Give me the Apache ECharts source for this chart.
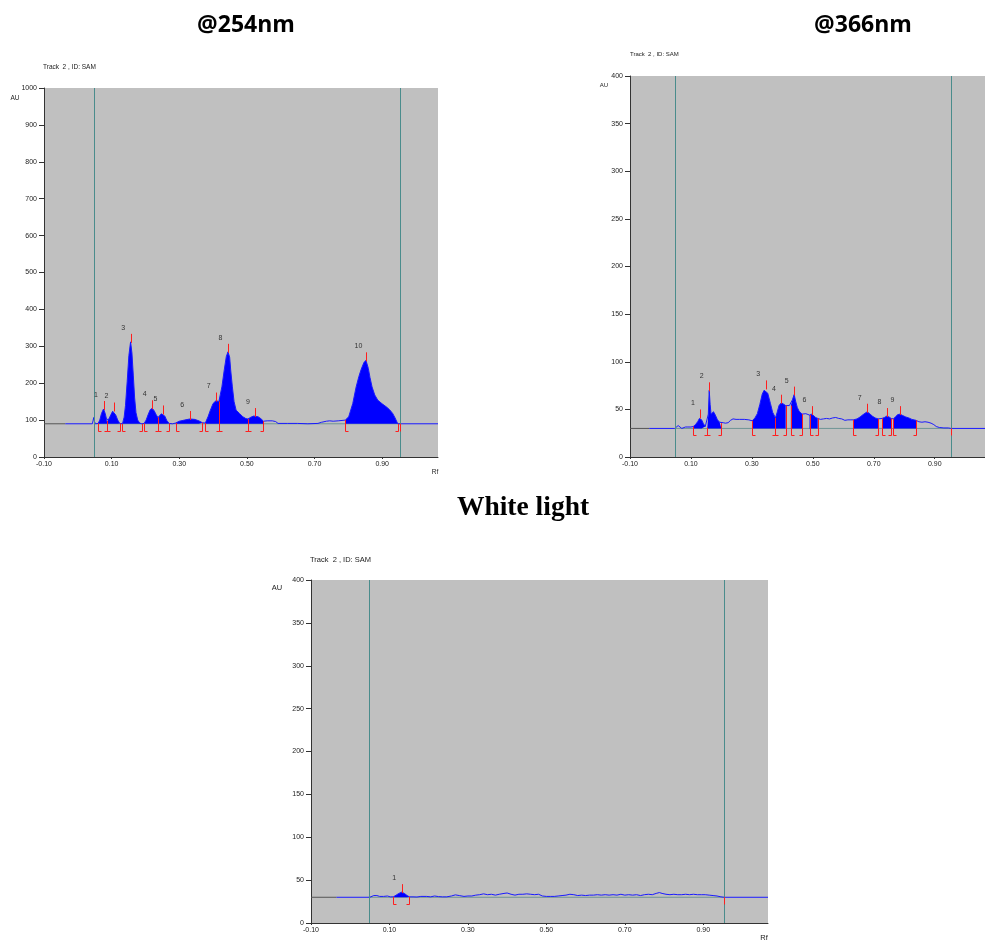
<!DOCTYPE html>
<html>
<head>
<meta charset="utf-8">
<title>HPTLC densitograms</title>
<script src="https://cdn.jsdelivr.net/npm/echarts@6/dist/echarts.min.js"></script>
<style>
html, body { margin: 0; padding: 0; background: #fff; }
#chartmain { width: 985px; height: 941px; }
</style>
</head>
<body>
<div id="chartmain"></div>
<script>
// Rf tick labels shared by the three scans
var xTicks = [-0.1, 0.1, 0.3, 0.5, 0.7, 0.9];
// application position / solvent front (teal lines)
var trackLimits = [0.047, 0.953];

// ---- @254nm ----
var uv254Base = 90;
var uv254Curve = [
    [-0.037, 90], [0.043, 90], [0.045, 98], [0.047, 107], [0.049, 97], [0.052, 90], [0.060, 91],
    [0.065, 100], [0.070, 118], [0.076, 130], [0.081, 118], [0.085, 102], [0.087, 97], [0.092, 102],
    [0.098, 115], [0.103, 124], [0.107, 126], [0.112, 114], [0.118, 100], [0.124, 91], [0.132, 90],
    [0.137, 108], [0.141, 140], [0.146, 205], [0.151, 275], [0.156, 312], [0.160, 282], [0.164, 222],
    [0.168, 160], [0.172, 120], [0.177, 100], [0.183, 92], [0.189, 90], [0.196, 91], [0.202, 100],
    [0.208, 115], [0.214, 128], [0.220, 132], [0.226, 125], [0.232, 114], [0.237, 107], [0.242, 112],
    [0.247, 117], [0.252, 118], [0.257, 111], [0.263, 99], [0.270, 91], [0.280, 90], [0.289, 92],
    [0.300, 97], [0.315, 100], [0.331, 103], [0.345, 102], [0.358, 98], [0.368, 93], [0.377, 92],
    [0.385, 109], [0.392, 127], [0.400, 145], [0.409, 153], [0.417, 150], [0.426, 190], [0.433, 236],
    [0.439, 272], [0.444, 285], [0.449, 270], [0.452, 236], [0.457, 190], [0.462, 150], [0.468, 127],
    [0.478, 118], [0.488, 109], [0.497, 104], [0.503, 103], [0.512, 108], [0.520, 111], [0.525, 111],
    [0.533, 109], [0.541, 104], [0.549, 97], [0.560, 98], [0.575, 98], [0.585, 96], [0.592, 91],
    [0.620, 91], [0.650, 91], [0.680, 90], [0.710, 91], [0.720, 94], [0.735, 97], [0.745, 98],
    [0.755, 97], [0.770, 98], [0.791, 100], [0.801, 109], [0.813, 145], [0.823, 190], [0.831, 218],
    [0.838, 238], [0.846, 256], [0.852, 262], [0.859, 240], [0.864, 215], [0.870, 190], [0.878, 168],
    [0.887, 154], [0.900, 144], [0.912, 136], [0.922, 128], [0.931, 118], [0.938, 106], [0.946, 90],
    [1.065, 90]
];
// [peak no, start Rf, max Rf, max AU, end Rf]
var uv254Peaks = [
    [1, 0.060, 0.076, 130, 0.087],
    [2, 0.087, 0.107, 126, 0.124],
    [3, 0.132, 0.156, 312, 0.189],
    [4, 0.196, 0.220, 132, 0.237],
    [5, 0.237, 0.252, 118, 0.270],
    [6, 0.289, 0.331, 103, 0.368],
    [7, 0.377, 0.409, 153, 0.417],
    [8, 0.417, 0.444, 285, 0.503],
    [9, 0.503, 0.525, 111, 0.549],
    [10, 0.791, 0.852, 262, 0.946]
];

// ---- @366nm ----
var uv366Base = 30;
var uv366Curve = [
    [-0.037, 30], [0.047, 30], [0.052, 32], [0.058, 33], [0.064, 31.5], [0.070, 30], [0.076, 30.5],
    [0.082, 31.5], [0.090, 31.5], [0.100, 31.5], [0.1075, 32], [0.115, 34], [0.122, 37], [0.128, 40.5],
    [0.131, 41.5], [0.135, 39], [0.141, 35], [0.147, 32], [0.1527, 30.5], [0.1538, 30.5], [0.157, 45],
    [0.160, 70], [0.163, 55], [0.166, 45], [0.170, 46], [0.174, 47.5], [0.180, 44], [0.187, 39],
    [0.194, 36.5], [0.200, 35.5], [0.206, 36], [0.213, 35.5], [0.222, 36], [0.230, 38.5], [0.238, 40],
    [0.248, 39.5], [0.260, 39.5], [0.275, 39.5], [0.290, 39], [0.301, 38], [0.310, 41], [0.318, 45.5],
    [0.326, 55], [0.334, 66], [0.340, 70], [0.345, 72], [0.352, 67], [0.361, 56], [0.368, 47],
    [0.3774, 41], [0.383, 47], [0.389, 54], [0.3968, 57], [0.402, 56.5], [0.4108, 54], [0.417, 55.5],
    [0.423, 54], [0.428, 54], [0.433, 60], [0.4387, 65.5], [0.444, 58], [0.449, 52], [0.455, 48],
    [0.4645, 45], [0.470, 45.5], [0.477, 45.5], [0.483, 44.5], [0.4892, 44], [0.4968, 45], [0.503, 43.5],
    [0.509, 41.5], [0.516, 40.5], [0.525, 39.5], [0.535, 40], [0.545, 40.5], [0.555, 40], [0.565, 41],
    [0.575, 41.5], [0.585, 40.5], [0.595, 40], [0.605, 38.5], [0.615, 39], [0.625, 39], [0.6333, 39],
    [0.645, 40], [0.655, 42], [0.665, 44.5], [0.6785, 47.5], [0.688, 45], [0.697, 42.5], [0.705, 41],
    [0.714, 40], [0.720, 40.5], [0.727, 40.5], [0.735, 41.5], [0.743, 43], [0.750, 42], [0.757, 40.5],
    [0.7645, 40], [0.772, 42.5], [0.779, 44.5], [0.786, 45], [0.795, 43.5], [0.805, 42], [0.815, 41],
    [0.825, 39.5], [0.8387, 38.5], [0.848, 37], [0.858, 36.5], [0.868, 37], [0.878, 36.5], [0.888, 35.5],
    [0.897, 34], [0.905, 32], [0.915, 31], [0.930, 30.5], [0.945, 30.5], [0.953, 30], [1.065, 30]
];
var uv366Peaks = [
    [1, 0.1075, 0.131, 41.5, 0.1527],
    [2, 0.1538, 0.160, 70, 0.200],
    [3, 0.301, 0.345, 72, 0.3774],
    [4, 0.3774, 0.3968, 57, 0.4108],
    [5, 0.428, 0.4387, 65.5, 0.4645],
    [6, 0.4892, 0.4968, 45, 0.516],
    [7, 0.6333, 0.6785, 47.5, 0.714],
    [8, 0.727, 0.743, 43, 0.757],
    [9, 0.7645, 0.786, 45, 0.8387]
];

// ---- White light ----
var whiteBase = 30;
var whiteCurve = [
    [-0.035, 30], [0.050, 30], [0.053, 31.5], [0.060, 32], [0.068, 32], [0.075, 31], [0.085, 31],
    [0.095, 31.5], [0.102, 30.5], [0.110, 30.5], [0.117, 32.5], [0.124, 34.5], [0.1313, 36],
    [0.138, 34.5], [0.145, 32], [0.1508, 30.5], [0.160, 30.5], [0.170, 30.3], [0.180, 31], [0.195, 31],
    [0.205, 30.5], [0.215, 31.5], [0.225, 30.8], [0.235, 30.5], [0.246, 30.5], [0.258, 31.5], [0.268, 32.8],
    [0.278, 32], [0.290, 31], [0.300, 31.5], [0.310, 31.5], [0.320, 32.5], [0.330, 33], [0.340, 34],
    [0.350, 33], [0.360, 33.5], [0.370, 32.5], [0.380, 33.5], [0.392, 34.5], [0.400, 35], [0.410, 33.5],
    [0.420, 32.5], [0.430, 33.5], [0.440, 33.5], [0.450, 34], [0.460, 33.5], [0.470, 33], [0.480, 33.5],
    [0.490, 31.5], [0.500, 31], [0.510, 31], [0.520, 31], [0.530, 31.5], [0.540, 32], [0.550, 32.5],
    [0.560, 33.5], [0.570, 33], [0.580, 32], [0.590, 32.5], [0.600, 32], [0.610, 32.5], [0.620, 32.5],
    [0.630, 33], [0.640, 32.5], [0.650, 33], [0.660, 32.5], [0.670, 33], [0.680, 32.5], [0.690, 33.5],
    [0.700, 32.5], [0.710, 33], [0.720, 32.5], [0.730, 33], [0.740, 32], [0.750, 33], [0.760, 33.5],
    [0.770, 33], [0.780, 34.5], [0.788, 35.5], [0.795, 34.5], [0.805, 33.5], [0.815, 33], [0.825, 33.5],
    [0.835, 33], [0.845, 33], [0.855, 33.5], [0.865, 33], [0.875, 33.5], [0.885, 33], [0.895, 33],
    [0.905, 33], [0.915, 32.5], [0.925, 32], [0.935, 31.5], [0.945, 30.5], [0.953, 30], [1.065, 30]
];
var whitePeaks = [
    [1, 0.110, 0.1313, 36, 0.1508]
];

var scans = [
    {curve: uv254Curve, peaks: uv254Peaks, base: uv254Base, yMax: 1000, yStep: 100},
    {curve: uv366Curve, peaks: uv366Peaks, base: uv366Base, yMax: 400, yStep: 50},
    {curve: whiteCurve, peaks: whitePeaks, base: whiteBase, yMax: 400, yStep: 50}
];

var grids = [
    {left: 44, top: 88, width: 394, height: 369},
    {left: 630, top: 76, width: 361, height: 381},
    {left: 311, top: 580, width: 457, height: 343}
];

function valueAt(curve, rf) {
    var best = curve[0];
    for (var i = 1; i < curve.length; i++) {
        if (Math.abs(curve[i][0] - rf) < Math.abs(best[0] - rf)) best = curve[i];
    }
    return best[1];
}

// integrated areas: curve points inside each peak window, broken between peaks
function fillData(curve, peaks) {
    var out = [];
    peaks.forEach(function (p) {
        curve.forEach(function (pt) {
            if (pt[0] >= p[1] - 1e-9 && pt[0] <= p[4] + 1e-9) out.push(pt);
        });
        out.push([p[4], '-']);
    });
    return out;
}

// kind: 0 = peak max, 1 = peak start, 2 = peak end, 3 = track end, 4 = track limit line
function markerData(s) {
    var d = [];
    trackLimits.forEach(function (rf) { d.push([rf, s.base, 4, -1]); });
    s.peaks.forEach(function (p, i) {
        d.push([p[1], valueAt(s.curve, p[1]), 1, i]);
        d.push([p[4], valueAt(s.curve, p[4]), 2, i]);
        d.push([p[2], p[3], 0, i]);
    });
    d.push([trackLimits[1], s.base, 3, -1]);
    return d;
}

function seg(x1, y1, x2, y2, color) {
    return {type: 'line', shape: {x1: x1, y1: y1, x2: x2, y2: y2},
        style: {stroke: color, lineWidth: 1}};
}

function markRenderer(s) {
    return function (params, api) {
        var kind = api.value(2);
        var pt = api.coord([api.value(0), api.value(1)]);
        var b = api.coord([api.value(0), s.base]);
        var x = Math.round(pt[0]) + 0.5;
        var red = '#ff1e1e';
        if (kind === 4) {
            var cs = params.coordSys;
            return seg(x, cs.y, x, cs.y + cs.height, '#4a8c8c');
        }
        if (kind === 0) {
            return {type: 'group', children: [
                seg(x, pt[1] + 1, x, pt[1] - 8, red),
                {type: 'text', x: pt[0] - 7.5, y: pt[1] - 14, style: {
                    text: String(s.peaks[api.value(3)][0]), fill: '#333',
                    font: '7px "Liberation Sans"', align: 'center', verticalAlign: 'middle'}}
            ]};
        }
        var yb = Math.round(b[1]) + 7.5;
        if (kind === 3) {
            return seg(x, b[1], x, yb, red);
        }
        var foot = kind === 1 ? 3 : -3;
        return {type: 'group', children: [
            seg(x, pt[1], x, yb, red),
            seg(x, yb, x + foot, yb, red)
        ]};
    };
}

var labelFont = {fontSize: 7, color: '#222', fontFamily: 'Liberation Sans'};

var option = {
    animation: false,
    backgroundColor: '#fff',
    grid: grids.map(function (g) {
        return {left: g.left, top: g.top, width: g.width, height: g.height,
            show: true, backgroundColor: '#c0c0c0', borderWidth: 0};
    }),
    xAxis: scans.map(function (s, i) {
        return {
            type: 'value', gridIndex: i, min: -0.1, max: 1.065,
            axisLine: {onZero: false, lineStyle: {color: '#333', width: 1}},
            axisTick: {show: true, length: 2, customValues: xTicks, lineStyle: {color: '#333'}},
            axisLabel: Object.assign({margin: 4, customValues: xTicks,
                formatter: function (v) { return v.toFixed(2); }}, labelFont),
            splitLine: {show: false}
        };
    }),
    yAxis: scans.map(function (s, i) {
        return {
            type: 'value', gridIndex: i, min: 0, max: s.yMax, interval: s.yStep,
            axisLine: {show: true, onZero: false, lineStyle: {color: '#333', width: 1}},
            axisTick: {show: true, length: 5, lineStyle: {color: '#333'}},
            axisLabel: Object.assign({margin: 7,
                formatter: function (v) { return String(v); }}, labelFont),
            splitLine: {show: false}
        };
    }),
    series: [],
    graphic: [
        {type: 'text', x: 246, y: 25, style: {text: '@254nm', font: 'bold 23px "Open Sans"', fill: '#000', align: 'center', verticalAlign: 'middle'}},
        {type: 'text', x: 863, y: 25, style: {text: '@366nm', font: 'bold 23px "Open Sans"', fill: '#000', align: 'center', verticalAlign: 'middle'}},
        {type: 'text', x: 523, y: 508, style: {text: 'White light', font: 'bold 27.5px "Liberation Serif"', fill: '#000', align: 'center', verticalAlign: 'middle'}},
        {type: 'text', x: 43, y: 67, style: {text: 'Track  2 , ID: SAM', font: '6.5px "Liberation Sans"', fill: '#222', verticalAlign: 'middle'}},
        {type: 'text', x: 15, y: 98, style: {text: 'AU', font: '6.5px "Liberation Sans"', fill: '#222', align: 'center', verticalAlign: 'middle'}},
        {type: 'text', x: 435, y: 472, style: {text: 'Rf', font: '6.5px "Liberation Sans"', fill: '#222', align: 'center', verticalAlign: 'middle'}},
        {type: 'text', x: 630, y: 54, style: {text: 'Track  2 , ID: SAM', font: '6px "Liberation Sans"', fill: '#222', verticalAlign: 'middle'}},
        {type: 'text', x: 604, y: 85, style: {text: 'AU', font: '6px "Liberation Sans"', fill: '#222', align: 'center', verticalAlign: 'middle'}},
        {type: 'text', x: 310, y: 560, style: {text: 'Track  2 , ID: SAM', font: '7.5px "Liberation Sans"', fill: '#222', verticalAlign: 'middle'}},
        {type: 'text', x: 277, y: 588, style: {text: 'AU', font: '7.5px "Liberation Sans"', fill: '#222', align: 'center', verticalAlign: 'middle'}},
        {type: 'text', x: 764, y: 938, style: {text: 'Rf', font: '7.5px "Liberation Sans"', fill: '#222', align: 'center', verticalAlign: 'middle'}}
    ]
};

scans.forEach(function (s, i) {
    // dark trace before the scan starts
    option.series.push({
        type: 'line', xAxisIndex: i, yAxisIndex: i, showSymbol: false, silent: true, z: 1,
        lineStyle: {color: '#555', width: 1},
        data: [[-0.1, s.base], [s.curve[0][0], s.base]]
    });
    // baseline under the track
    option.series.push({
        type: 'line', xAxisIndex: i, yAxisIndex: i, showSymbol: false, silent: true, z: 1,
        lineStyle: {color: '#6f9494', width: 1},
        data: [[trackLimits[0], s.base], [trackLimits[1], s.base]]
    });
    // filled peak areas
    option.series.push({
        type: 'line', xAxisIndex: i, yAxisIndex: i, showSymbol: false, silent: true, z: 2,
        connectNulls: false,
        lineStyle: {width: 0},
        areaStyle: {color: '#0000ff', opacity: 1, origin: s.base},
        data: fillData(s.curve, s.peaks)
    });
    // densitogram trace
    option.series.push({
        type: 'line', xAxisIndex: i, yAxisIndex: i, showSymbol: false, silent: true, z: 3,
        lineStyle: {color: '#1a1aff', width: 1},
        data: s.curve
    });
    // track limits, peak marks (max ticks, start/end brackets, labels)
    option.series.push({
        type: 'custom', xAxisIndex: i, yAxisIndex: i, silent: true, z: 4,
        encode: {x: 0, y: 1},
        renderItem: markRenderer(s),
        data: markerData(s)
    });
});

var myChart = echarts.init(document.getElementById('chartmain'));
myChart.setOption(option);
</script>
</body>
</html>
